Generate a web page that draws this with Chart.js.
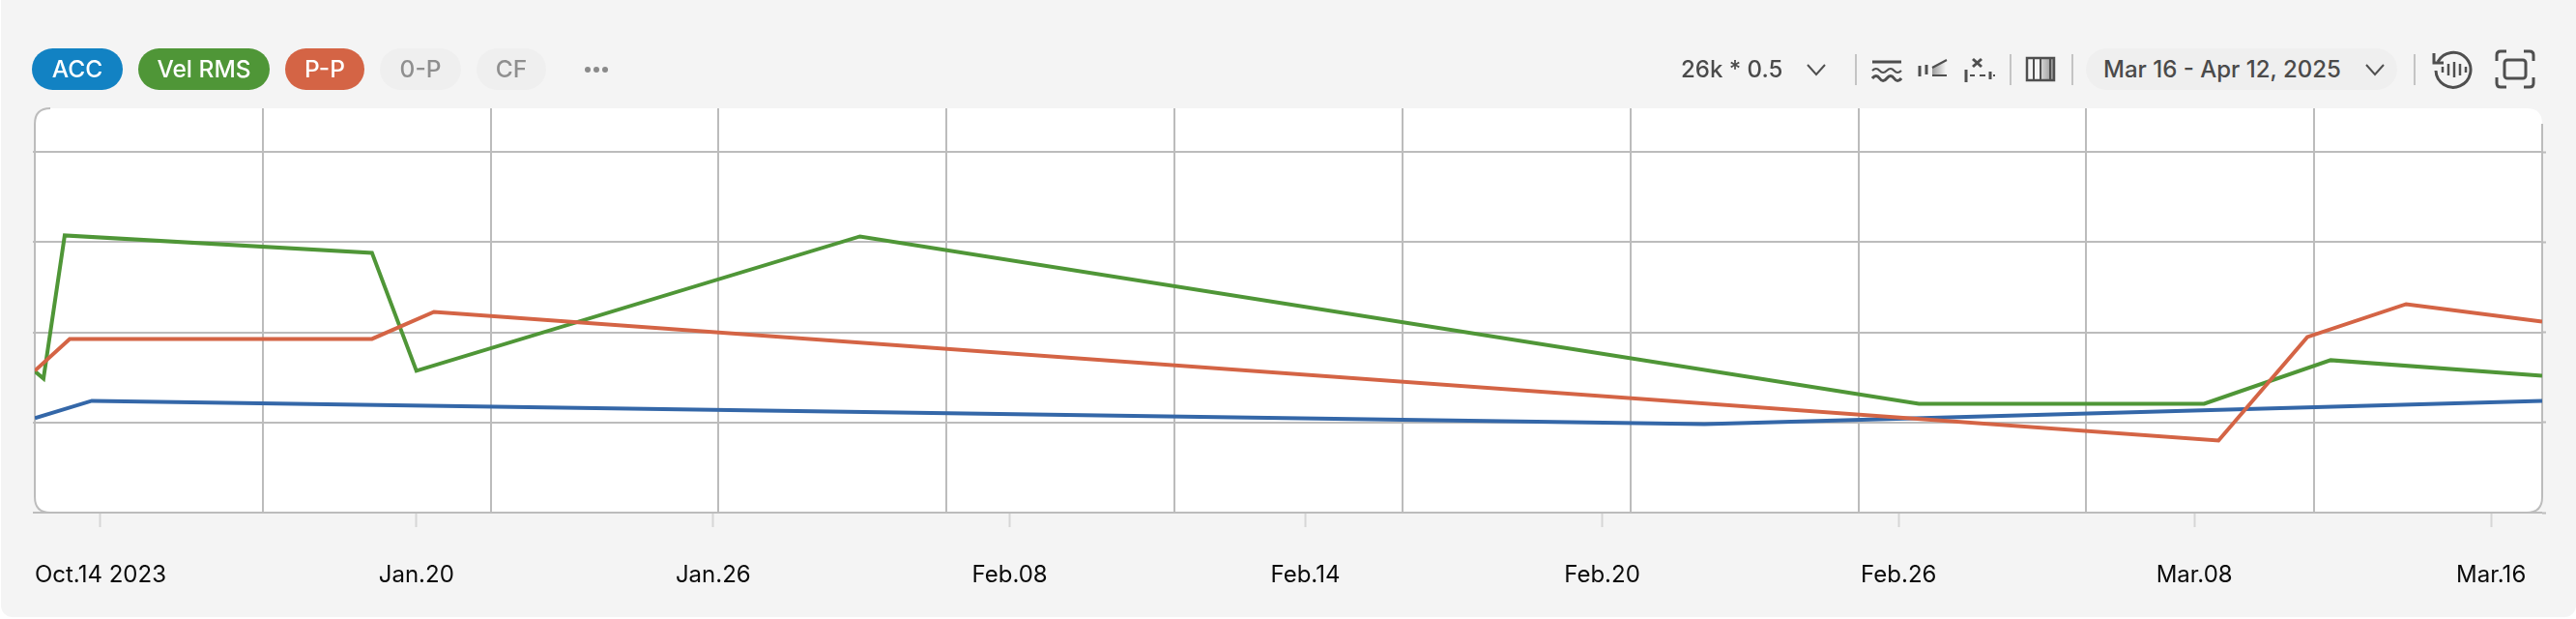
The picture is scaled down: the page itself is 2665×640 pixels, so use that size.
<!DOCTYPE html>
<html>
<head>
<meta charset="utf-8">
<title>Trend</title>
<script src="https://cdn.jsdelivr.net/npm/chart.js@4/dist/chart.umd.min.js"></script>
<style>
  html, body { margin: 0; padding: 0; background: #fff; width: 2665px; height: 640px; overflow: hidden; font-family: Inter, sans-serif; }
  #panel { position: absolute; left: 1px; top: 0; width: 2664px; height: 638px; background: #f4f4f4; border-radius: 0 0 12px 12px; }
  #chartBox { position: absolute; left: 0; top: 0; width: 2665px; height: 640px; }
  .pill { position: absolute; top: 50px; height: 43px; line-height: 43px; border-radius: 22px; text-align: center; font-size: 24.5px; font-weight: 500; color: #fff; }
  .pill.off { background: #efefef; color: #8f8f8f; }
  .txt { position: absolute; top: 50px; height: 43px; line-height: 43px; font-size: 24px; font-weight: 500; color: #4a4a4a; white-space: nowrap; }
  .sep { position: absolute; top: 56px; width: 2px; height: 32px; background: #c4c4c4; }
  svg.ic { position: absolute; fill: none; stroke: #4f4f4f; stroke-width: 2.5; }
</style>
</head>
<body>
<div id="panel"></div>
<div id="chartBox"><canvas id="trendChart"></canvas></div>
<div id="toolbar"></div>

<svg class="ic" style="left:604px;top:66px" width="26" height="12"><g fill="#8a8a8a" stroke="none"><circle cx="4" cy="6" r="3"/><circle cx="13" cy="6" r="3"/><circle cx="22" cy="6" r="3"/></g></svg>

<div class="txt" style="left:1739px">26k * 0.5</div>
<svg class="ic" style="left:1868px;top:64px" width="22" height="16"><path d="M2 3 L11 13 L20 3" stroke-width="2"/></svg>
<div class="sep" style="left:1919px"></div>

<svg class="ic" style="left:1936px;top:60px" width="32" height="26"><path d="M1 4 H31" stroke-width="3"/><path d="M1 13 q4 -4 7.500 0 t7.500 0 t7.500 0 t7.500 0" stroke-width="2"/><path d="M1 21 q4 -5 7.500 0 t7.500 0 t7.500 0 t7.500 0" stroke-width="3"/></svg>
<svg class="ic" style="left:1984px;top:58px" width="32" height="24"><defs><linearGradient id="fade"><stop offset="0" stop-color="#9a9a9a"/><stop offset="1" stop-color="#f4f4f4"/></linearGradient></defs><path d="M15 11 L29 4 V20 H15 Z" fill="url(#fade)" stroke="none"/><path d="M2 10 V21 M9 9 V19" stroke-width="3"/><path d="M15 12 L30 4 M15 20 H30" stroke-width="2"/></svg>
<svg class="ic" style="left:2032px;top:57px" width="32" height="30"><path d="M9 4 L18 12 M18 4 L9 12" stroke-width="3"/><path d="M2 15 V28 M27 17 V25" stroke-width="3"/><path d="M6 21 H11 M16 21 H22 M30 21 H32" stroke-width="2"/></svg>
<div class="sep" style="left:2079px"></div>

<svg class="ic" style="left:2095px;top:58px" width="32" height="27"><defs><linearGradient id="fade2"><stop offset="0" stop-color="#d8d8d8"/><stop offset="1" stop-color="#8e8e8e"/></linearGradient></defs><rect x="16" y="2" width="14" height="23" fill="url(#fade2)" stroke="none"/><rect x="2" y="2" width="28" height="23" stroke-width="2.500"/><path d="M9 2 V25 M16 2 V25 M26 2 V25" stroke-width="2"/></svg>
<div class="sep" style="left:2143px"></div>

<div style="position:absolute;left:2158px;top:50px;width:322px;height:43px;border-radius:22px;background:#efefef"></div>
<div class="txt" style="left:2176px">Mar 16 - Apr 12, 2025</div>
<svg class="ic" style="left:2446px;top:64px" width="22" height="16"><path d="M2 3 L11 13 L20 3" stroke-width="2"/></svg>
<div class="sep" style="left:2497px"></div>

<svg class="ic" style="left:2516px;top:50px" width="44" height="43"><path d="M6 14 A18 18 0 1 1 4 23" stroke-width="3"/><path d="M2 5 V15 H12" stroke-width="3"/><path d="M11 19 V25 M17 16 V28 M23 14 V30 M29 16 V28 M35 19 V25" stroke-width="2.500"/></svg>
<svg class="ic" style="left:2581px;top:51px" width="42" height="41"><path d="M2 12 V6 Q2 2 6 2 H12 M30 2 H36 Q40 2 40 6 V12 M40 29 V35 Q40 39 36 39 H30 M12 39 H6 Q2 39 2 35 V29" stroke-width="3"/><rect x="10" y="11" width="22" height="19" rx="3" stroke-width="3"/></svg>

<script>
// series, x in grid cells from the left edge, y in grid rows from the bottom
const seriesNames = ['ACC', 'Vel RMS', 'P-P'];
const offNames = ['0-P', 'CF'];

const accX = [0, 0.25, 7.325, 11];
const accY = [1.047, 1.24, 0.983, 1.24];

const velX = [0, 0.038, 0.131, 1.479, 1.674, 3.62, 8.266, 9.517, 10.072, 11];
const velY = [1.568, 1.487, 3.075, 2.882, 1.573, 3.064, 1.208, 1.208, 1.691, 1.519];

const ppX = [0, 0.153, 1.479, 1.751, 9.58, 9.97, 10.403, 11];
const ppY = [1.573, 1.927, 1.927, 2.227, 0.8, 1.948, 2.313, 2.12];

const tickLabels = ['Oct.14 2023', 'Jan.20', 'Jan.26', 'Feb.08', 'Feb.14', 'Feb.20', 'Feb.26', 'Mar.08', 'Mar.16'];
const tickSpots = [0.288, 1.674, 2.976, 4.277, 5.574, 6.876, 8.177, 9.474, 10.776];

const accColor = '#3467a8';
const velColor = '#4f9637';
const ppColor = '#d46445';
const gridColor = '#bcbcbc';

// pills on the top left
const pillLefts = [33, 143, 295, 393, 493];
const pillWidths = [94, 136, 82, 84, 72];
const pillColors = ['#1282c3', velColor, ppColor];
const toolbar = document.getElementById('toolbar');
seriesNames.concat(offNames).forEach((name, i) => {
  const pill = document.createElement('div');
  pill.className = i < seriesNames.length ? 'pill' : 'pill off';
  pill.style.left = pillLefts[i] + 'px';
  pill.style.width = pillWidths[i] + 'px';
  if (i < seriesNames.length) pill.style.background = pillColors[i];
  pill.textContent = name;
  toolbar.appendChild(pill);
});

const toPoints = (xs, ys) => xs.map((x, i) => ({ x: x, y: ys[i] }));

const makeLine = (label, xs, ys, color, order) => ({
  label: label,
  data: toPoints(xs, ys),
  borderColor: color,
  borderWidth: 4,
  pointRadius: 0,
  tension: 0,
  order: order,
  xAxisID: 'x',
  yAxisID: 'y'
});

// white rounded card behind the grid
const cardPlugin = {
  id: 'card',
  beforeDraw(chart) {
    const a = chart.chartArea;
    const r = 16;
    const ctx = chart.ctx;
    ctx.save();
    ctx.beginPath();
    ctx.moveTo(a.left + r, a.top);
    ctx.lineTo(a.right - r, a.top);
    ctx.quadraticCurveTo(a.right, a.top, a.right, a.top + r);
    ctx.lineTo(a.right, a.bottom - r);
    ctx.quadraticCurveTo(a.right, a.bottom, a.right - r, a.bottom);
    ctx.lineTo(a.left + r, a.bottom);
    ctx.quadraticCurveTo(a.left, a.bottom, a.left, a.bottom - r);
    ctx.lineTo(a.left, a.top + r);
    ctx.quadraticCurveTo(a.left, a.top, a.left + r, a.top);
    ctx.fillStyle = '#fff';
    ctx.fill();
    ctx.strokeStyle = gridColor;
    ctx.lineWidth = 2;
    ctx.beginPath();
    ctx.moveTo(a.left + r, a.top);
    ctx.quadraticCurveTo(a.left, a.top, a.left, a.top + r);
    ctx.lineTo(a.left, a.bottom - r);
    ctx.quadraticCurveTo(a.left, a.bottom, a.left + r, a.bottom);
    ctx.lineTo(a.right - r, a.bottom);
    ctx.quadraticCurveTo(a.right, a.bottom, a.right, a.bottom - r);
    ctx.lineTo(a.right, a.top + r);
    ctx.stroke();
    ctx.restore();
  }
};

const ctx = document.getElementById('trendChart').getContext('2d');
const trendChart = new Chart(ctx, {
  type: 'line',
  data: {
    datasets: [
      makeLine('ACC', accX, accY, accColor, 3),
      makeLine('Vel RMS', velX, velY, velColor, 2),
      makeLine('P-P', ppX, ppY, ppColor, 1)
    ]
  },
  options: {
    responsive: true,
    maintainAspectRatio: false,
    animation: false,
    layout: { padding: { left: 33, right: 31, top: 112, bottom: 32 } },
    plugins: { legend: { display: false }, tooltip: { enabled: false } },
    scales: {
      x: {
        type: 'linear',
        position: 'bottom',
        weight: 0,
        min: 0,
        max: 11,
        ticks: { display: false, stepSize: 1 },
        border: { display: false },
        grid: {
          drawTicks: false,
          lineWidth: 2,
          color: c => (c.tick.value === 0 || c.tick.value === 11) ? 'transparent' : gridColor
        }
      },
      x2: {
        type: 'linear',
        position: 'bottom',
        weight: 1,
        min: 0,
        max: 11,
        afterBuildTicks: axis => { axis.ticks = tickSpots.map(v => ({ value: v })); },
        afterFit: axis => { axis.height = 78; },
        ticks: {
          autoSkip: false,
          maxRotation: 0,
          padding: 35,
          color: '#0a0a0a',
          font: { family: 'Inter', size: 24 },
          callback: (value, index) => tickLabels[index]
        },
        border: { display: false },
        grid: { drawOnChartArea: false, tickLength: 15, tickWidth: 2, tickColor: '#d6d6d6' }
      },
      y: {
        position: 'left',
        min: 0,
        max: 4.485,
        ticks: { display: false, stepSize: 1, includeBounds: false },
        border: { display: false },
        grid: { color: gridColor, lineWidth: 2, tickLength: 2 }
      },
      y2: {
        position: 'right',
        min: 0,
        max: 4.485,
        ticks: { display: false, stepSize: 1, includeBounds: false },
        border: { display: false },
        grid: { drawOnChartArea: false, tickColor: gridColor, tickWidth: 2, tickLength: 4 }
      }
    }
  },
  plugins: [cardPlugin]
});
console.log(trendChart.chartArea);
</script>
</body>
</html>
